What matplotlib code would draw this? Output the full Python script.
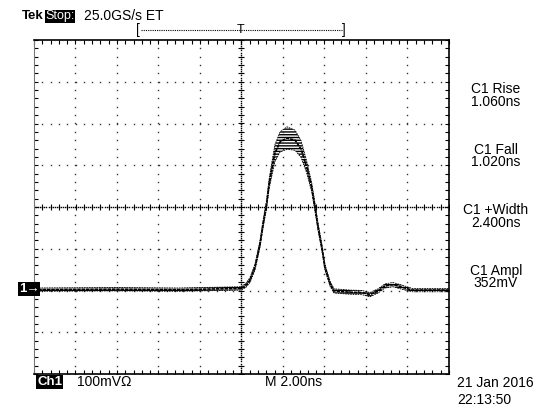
import matplotlib.pyplot as plt
import numpy as np

plt.rcParams['font.family'] = ['Liberation Sans', 'DejaVu Sans']

# waveform: time in ns, level in divisions (100 mV/div)
t_ns = [-10.0, -6.0, -3.0, 0.0, 0.22, 0.41, 0.65, 0.89, 1.04, 1.21, 1.33, 1.47,
        1.61, 1.86, 2.19, 2.58, 2.87, 3.14, 3.38, 3.54, 3.69, 3.87, 4.02, 4.27,
        4.46, 5.23, 5.81, 6.19, 6.58, 6.92, 7.30, 7.73, 8.22, 10.0]
level = [-1.98, -1.97, -1.98, -1.95, -1.87, -1.75, -1.44, -0.89, -0.41, 0.07, 0.55, 0.93,
         1.29, 1.56, 1.65, 1.60, 1.39, 0.96, 0.48, 0.0, -0.48, -0.96, -1.44, -1.84,
         -2.01, -2.04, -2.05, -2.10, -2.01, -1.89, -1.86, -1.92, -1.99, -1.99]
spread = [0.04, 0.04, 0.04, 0.04, 0.05, 0.06, 0.07, 0.08, 0.09, 0.10, 0.12, 0.16,
          0.20, 0.24, 0.27, 0.24, 0.20, 0.14, 0.11, 0.10, 0.09, 0.08, 0.07, 0.06,
          0.05, 0.05, 0.05, 0.05, 0.05, 0.05, 0.05, 0.05, 0.04, 0.04]

measures = [("C1 Rise", "1.060ns"), ("C1 Fall", "1.020ns"),
            ("C1 +Width", "2.400ns"), ("C1 Ampl", "352mV")]

t = np.array(t_ns)
v = np.array(level)
s = np.array(spread)

fig = plt.figure(figsize=(5.53, 4.16), dpi=100)
ax = fig.add_axes([34 / 553, 42 / 416, 415 / 553, 334 / 416])
ax.set_xlim(-10, 10)
ax.set_ylim(-4, 4)

# graticule: dotted lines at each division, dots every 1/5 div
for gx in np.arange(-8, 10, 2):
    yy = np.arange(-4, 4.01, 0.2)
    ax.plot(np.full_like(yy, gx), yy, ls="none", marker="s", ms=1.0,
            color="#333333", mew=0)
for gy in np.arange(-3, 4, 1):
    xx = np.arange(-10, 10.01, 0.4)
    ax.plot(xx, np.full_like(xx, gy), ls="none", marker="s", ms=1.0,
            color="#333333", mew=0)

# centre lines with finer dots and small cross ticks
xx = np.arange(-10, 10.01, 0.1)
ax.plot(xx, np.zeros_like(xx), ls="none", marker="s", ms=1.0, color="black", mew=0)
xx = np.arange(-10, 10.01, 0.4)
ax.plot(xx, np.zeros_like(xx), ls="none", marker="|", ms=4, color="black", mew=0.8)
yy = np.arange(-4, 4.01, 0.05)
ax.plot(np.zeros_like(yy), yy, ls="none", marker="s", ms=1.0, color="black", mew=0)
yy = np.arange(-4, 4.01, 0.2)
ax.plot(np.zeros_like(yy), yy, ls="none", marker="_", ms=4, color="black", mew=0.8)

# trace band
ax.fill_between(t, v - s, v + s, facecolor="none", edgecolor="black",
                hatch="------", linewidth=0)
ax.plot(t, v, color="black", lw=1.2, ls=(0, (2, 0.6)))
ax.plot(t, v + s, color="black", lw=0.6, ls=(0, (2, 1)))
ax.plot(t, v - s, color="black", lw=0.6, ls=(0, (2, 1)))

ax.set_xticks(np.arange(-10, 10.01, 2))
ax.set_xticks(np.arange(-10, 10.01, 0.4), minor=True)
ax.set_yticks(np.arange(-4, 4.01, 1))
ax.set_yticks(np.arange(-4, 4.01, 0.2), minor=True)
ax.tick_params(which="both", direction="in", top=True, right=True,
               labelbottom=False, labelleft=False, length=3, width=0.8)
for side in ["top", "bottom", "right"]:
    ax.spines[side].set_linewidth(1.2)
ax.spines["left"].set_color("#777777")

W, H = 553, 416


def ftext(x, y, s, size=9.5, **kw):
    fig.text(x / W, 1 - y / H, s, fontsize=size, va="center", **kw)


ftext(22, 16, "Tek", size=9.5, fontweight="bold")
ftext(45, 16, "Stop:", color="white", size=9,
      bbox=dict(facecolor="black", edgecolor="none", pad=0.4))
ftext(84, 16, "25.0GS/s ET", size=10)

# trigger position bracket
ftext(136, 30, "[", size=10)
ftext(342, 30, "]", size=10)
fig.add_artist(plt.Line2D([141 / W, 342 / W], [1 - 30 / H] * 2, color="black",
                          lw=0.8, ls=(0, (1, 1))))
ftext(241, 30, "T", ha="center", size=9)

for i, (name, val) in enumerate(measures):
    y0 = 89 + i * 60.5
    ftext(496, y0, name, ha="center", size=10)
    ftext(496, y0 + 12.5, val, ha="center", size=10)

ftext(19, 289, "1\u2192", color="white", fontweight="bold",
      bbox=dict(facecolor="black", edgecolor="none", pad=0.5))
ftext(37, 382, "Ch1", color="white", fontweight="bold",
      bbox=dict(facecolor="black", edgecolor="none", pad=0.5))
ftext(77, 382, "100mV\u03a9", size=10)
ftext(265, 382, "M 2.00ns", size=10)
ftext(457, 383, "21 Jan 2016", size=10)
ftext(457, 400, "22:13:50", size=10)

fig.savefig("out.png", dpi=100, facecolor="white")
